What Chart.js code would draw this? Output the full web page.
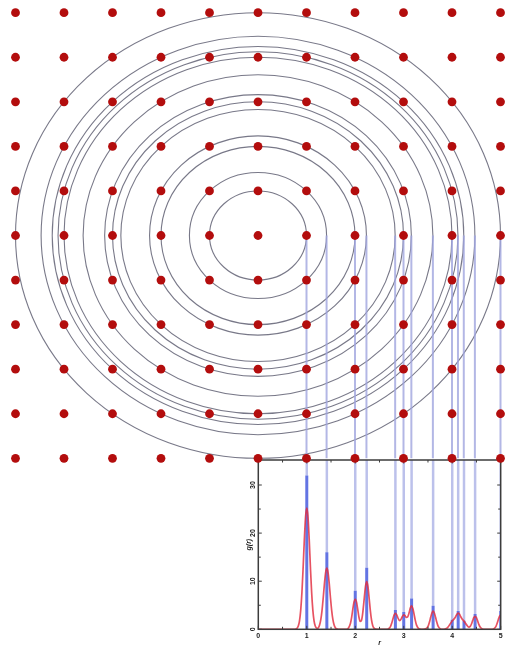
<!DOCTYPE html>
<html>
<head>
<meta charset="utf-8">
<script src="https://cdn.jsdelivr.net/npm/chart.js@4/dist/chart.umd.min.js"></script>
<style>
  html, body { margin: 0; padding: 0; background: #fff; }
  #wrap { position: relative; width: 506px; height: 647px; }
  #wrap canvas { position: absolute; left: 0; top: 0; }
</style>
</head>
<body>
<div id="wrap">
  <canvas id="gr" width="506" height="647"></canvas>
  <canvas id="lattice" width="506" height="647"></canvas>
</div>
<script>
// Square lattice sites (lattice units, origin at the central site)
const latticeCols = [-5, -4, -3, -2, -1, 0, 1, 2, 3, 4, 5];
const latticeRows = [-5, -4, -3, -2, -1, 0, 1, 2, 3, 4, 5];

// Neighbour shell radii around the central site
const shellRadii = [1, 1.414, 2, 2.236, 2.828, 3, 3.162, 3.606, 4, 4.123, 4.243, 4.472, 5];
// Height of the sharp g(r) spike at each shell
const spikeHeights = [32, 16, 8, 12.8, 4, 3.6, 6.4, 4.9, 2, 3.8, 1.8, 3.2, 3.8];

// Broadened g(r) curve
const curveR = [
  0, 0.75, 0.8, 0.825, 0.85, 0.875, 0.9, 0.925, 0.95, 0.975, 1.0,
  1.025, 1.05, 1.075, 1.1, 1.125, 1.15, 1.175, 1.2, 1.215,
  1.239, 1.264, 1.289, 1.314, 1.339, 1.364, 1.389, 1.414,
  1.439, 1.464, 1.489, 1.514, 1.539, 1.564, 1.589, 1.614, 1.65,
  1.8, 1.85, 1.9, 1.925, 1.95, 1.975, 2.0, 2.025, 2.05, 2.075, 2.1, 2.125, 2.15,
  2.186, 2.211, 2.236, 2.261, 2.286, 2.311, 2.336, 2.361, 2.386, 2.45,
  2.65, 2.678, 2.703, 2.728, 2.753, 2.778, 2.803, 2.828, 2.853, 2.878, 2.914, 2.95, 2.975,
  3.0, 3.025, 3.05, 3.081, 3.112, 3.137, 3.162, 3.187, 3.212, 3.237, 3.262, 3.312, 3.36,
  3.4, 3.456, 3.506, 3.531, 3.556, 3.581, 3.606, 3.631, 3.656, 3.681, 3.706, 3.756, 3.8,
  3.85, 3.9, 3.95, 4.0, 4.025, 4.05, 4.073, 4.098, 4.123, 4.148, 4.173, 4.2, 4.243,
  4.293, 4.343, 4.372, 4.397, 4.422, 4.447, 4.472, 4.497, 4.522, 4.547, 4.572, 4.622, 4.68,
  4.8, 4.85, 4.9, 4.925, 4.95, 4.975, 5.0];
const curveG = [
  0, 0, 0.22, 0.67, 1.76, 4.0, 7.7, 12.9, 18.7, 23.4, 25.2,
  23.4, 18.7, 12.9, 7.7, 4.0, 1.76, 0.67, 0.25, 0.22,
  0.34, 0.89, 2.0, 3.9, 6.5, 9.45, 11.8, 12.7,
  11.8, 9.45, 6.5, 3.9, 2.0, 0.89, 0.34, 0.11, 0,
  0, 0.15, 1.2, 2.5, 4.2, 5.7, 6.3, 5.7, 4.2, 2.6, 1.66, 1.77, 3.05,
  6.5, 8.9, 9.9, 8.9, 6.5, 3.9, 1.9, 0.75, 0.24, 0,
  0, 0.08, 0.25, 0.63, 1.3, 2.2, 3.0, 3.3, 3.06, 2.4, 1.8, 2.2, 2.73,
  3.0, 2.84, 2.5, 2.6, 3.5, 4.46, 4.85, 4.33, 3.2, 1.9, 0.92, 0.12, 0,
  0, 0.09, 0.73, 1.5, 2.5, 3.4, 3.8, 3.4, 2.5, 1.5, 0.73, 0.09, 0,
  0.04, 0.29, 1.0, 1.75, 2.0, 2.3, 2.67, 3.15, 3.35, 3.16, 2.68, 2.2, 1.7,
  0.97, 0.44, 0.61, 1.1, 1.8, 2.45, 2.7, 2.45, 1.8, 1.07, 0.52, 0.07, 0,
  0, 0.07, 0.57, 1.2, 2.0, 2.7, 3.0];

// Inset axis ticks
const rMajorTicks = [0, 1, 2, 3, 4, 5];
const rMinorTicks = [0.5, 1.5, 2.5, 3.5, 4.5];
const gMajorTicks = [0, 10, 20, 30];
const gMinorTicks = [5, 15, 25, 35];
const G_MAX = 35.2;

// ---------- lattice with neighbour shells ----------
const dotPoints = [];
latticeRows.forEach(y => latticeCols.forEach(x => dotPoints.push({ x, y })));

const dropLines = [];
shellRadii.forEach(r => {
  dropLines.push({ x: r, y: 0 }, { x: r, y: latticeRows[0] }, { x: r, y: null });
});

const shellPlugin = {
  id: 'shells',
  beforeDatasetsDraw(chart) {
    const { ctx, scales: { x, y } } = chart;
    const cx = x.getPixelForValue(0), cy = y.getPixelForValue(0);
    ctx.save();
    ctx.strokeStyle = 'rgba(90,90,110,0.82)';
    ctx.lineWidth = 1.1;
    shellRadii.forEach(r => {
      ctx.beginPath();
      ctx.ellipse(cx, cy, x.getPixelForValue(r) - cx, cy - y.getPixelForValue(r), 0, 0, Math.PI * 2);
      ctx.stroke();
    });
    ctx.restore();
  }
};

new Chart(document.getElementById('lattice'), {
  type: 'scatter',
  data: {
    datasets: [
      { data: dotPoints, pointRadius: 4.4, pointBackgroundColor: '#b30d0d', pointBorderWidth: 0,
        clip: false, order: 0 },
      { data: dropLines, showLine: true, spanGaps: false, borderColor: 'rgba(160,165,222,0.8)',
        borderWidth: 2, pointRadius: 0, clip: false, order: 1 }
    ]
  },
  options: {
    responsive: false, animation: false, events: [],
    layout: { padding: { left: 15.5, right: 5.5, top: 12.7, bottom: 188.7 } },
    scales: {
      x: { type: 'linear', min: -5, max: 5, display: false },
      y: { type: 'linear', min: -5, max: 5, display: false }
    },
    plugins: { legend: { display: false }, tooltip: { enabled: false } }
  },
  plugins: [shellPlugin]
});

// ---------- g(r) inset ----------
const spikes = [], guides = [];
shellRadii.forEach((r, i) => {
  spikes.push({ x: r, y: 0 }, { x: r, y: spikeHeights[i] }, { x: r, y: null });
  guides.push({ x: r, y: spikeHeights[i] }, { x: r, y: G_MAX }, { x: r, y: null });
});
const curve = curveR.map((r, i) => ({ x: r, y: curveG[i] }));

const framePlugin = {
  id: 'frame',
  afterDatasetsDraw(chart) {
    const { ctx, chartArea: a, scales: { x, y } } = chart;
    ctx.save();
    ctx.strokeStyle = '#3c3c3c';
    ctx.lineWidth = 1.5;
    ctx.strokeRect(a.left, a.top, a.right - a.left, a.bottom - a.top);
    ctx.lineWidth = 1;
    const seg = (x1, y1, x2, y2) => { ctx.beginPath(); ctx.moveTo(x1, y1); ctx.lineTo(x2, y2); ctx.stroke(); };
    rMajorTicks.concat(rMinorTicks).forEach(v => {
      const px = x.getPixelForValue(v), len = rMajorTicks.includes(v) ? 3.5 : 2.5;
      seg(px, a.bottom, px, a.bottom - len);
      seg(px, a.top, px, a.top + len);
    });
    gMajorTicks.concat(gMinorTicks).forEach(v => {
      const py = y.getPixelForValue(v), len = gMajorTicks.includes(v) ? 3.5 : 2.5;
      seg(a.left, py, a.left + len, py);
      seg(a.right, py, a.right - len, py);
    });
    // rotated g tick labels and axis titles
    ctx.fillStyle = '#222';
    ctx.textAlign = 'center';
    ctx.textBaseline = 'middle';
    ctx.font = 'bold 7px "Liberation Sans", Arial, sans-serif';
    gMajorTicks.forEach(v => {
      ctx.save();
      ctx.translate(a.left - 5.6, y.getPixelForValue(v));
      ctx.rotate(-Math.PI / 2);
      ctx.fillText(String(v), 0, 0);
      ctx.restore();
    });
    ctx.font = 'italic bold 7px "Liberation Sans", Arial, sans-serif';
    ctx.save();
    ctx.translate(a.left - 9, (a.top + a.bottom) / 2);
    ctx.rotate(-Math.PI / 2);
    ctx.fillText('g(r)', 0, 0);
    ctx.restore();
    ctx.fillText('r', (a.left + a.right) / 2, 643);
    ctx.restore();
  }
};

new Chart(document.getElementById('gr'), {
  type: 'scatter',
  data: {
    datasets: [
      { data: curve, showLine: true, cubicInterpolationMode: 'monotone', borderColor: 'rgba(226,44,62,0.82)',
        borderWidth: 1.7, pointRadius: 0, order: 0 },
      { data: spikes, showLine: true, spanGaps: false, borderColor: 'rgba(72,92,222,0.85)',
        borderWidth: 3, pointRadius: 0, order: 1 },
      { data: guides, showLine: true, spanGaps: false, borderColor: 'rgba(165,172,228,0.75)',
        borderWidth: 2.5, pointRadius: 0, order: 2 }
    ]
  },
  options: {
    responsive: false, animation: false, events: [],
    layout: { padding: { left: 230, right: 5.3, top: 460, bottom: 0 } },
    scales: {
      x: {
        type: 'linear', min: 0, max: 5,
        grid: { display: false, drawTicks: false }, border: { display: false },
        ticks: { stepSize: 1, padding: 3, color: '#222', font: { size: 7, weight: 'bold', family: '"Liberation Sans", Arial, sans-serif' } },
        afterFit(s) { s.height = 17.7; }
      },
      y: {
        type: 'linear', min: 0, max: G_MAX,
        grid: { display: false, drawTicks: false }, border: { display: false },
        ticks: { display: false },
        afterFit(s) { s.width = 28.3; }
      }
    },
    plugins: { legend: { display: false }, tooltip: { enabled: false } }
  },
  plugins: [framePlugin]
});
</script>
</body>
</html>
